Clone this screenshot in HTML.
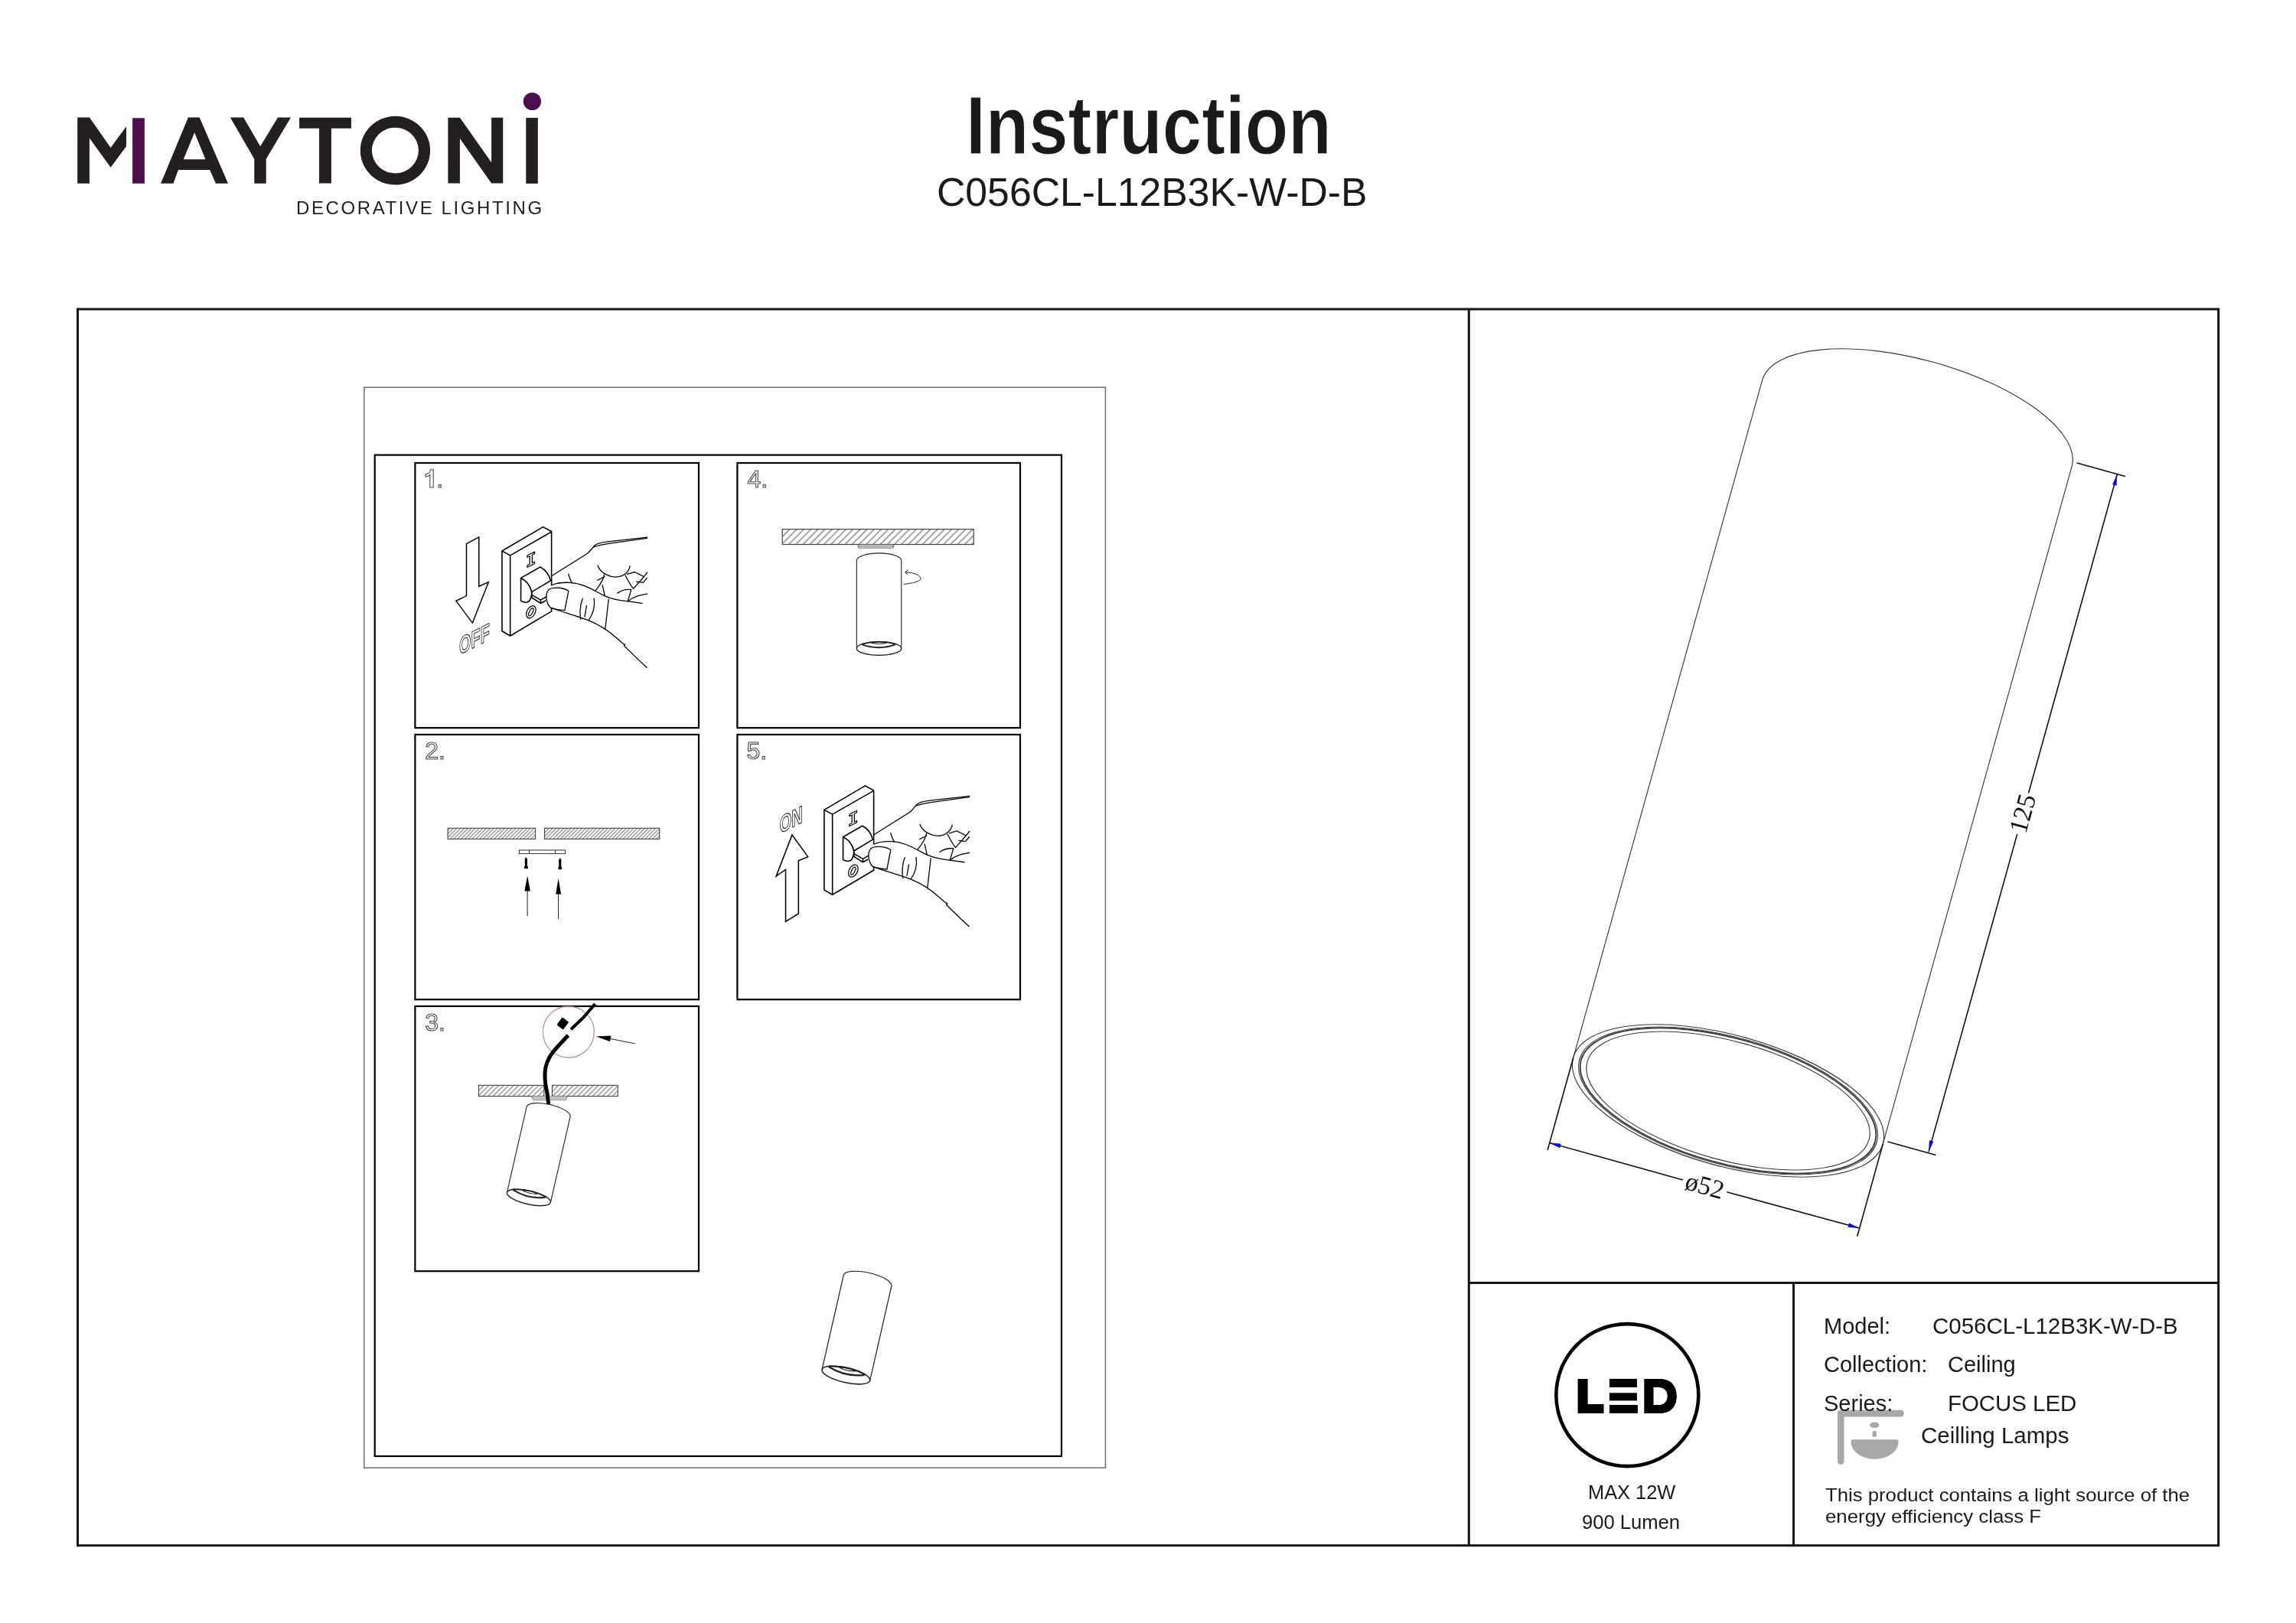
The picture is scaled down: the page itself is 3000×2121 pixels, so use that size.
<!DOCTYPE html>
<html><head><meta charset="utf-8">
<style>
html,body{margin:0;padding:0;background:#fff;}
body{width:3000px;height:2121px;overflow:hidden;position:relative;}
svg{position:absolute;left:0;top:0;will-change:transform;}
text{font-family:"Liberation Sans",sans-serif;}
.serif text,text.serif{font-family:"Liberation Serif",serif;}
</style></head>
<body>
<svg width="3000" height="2121" viewBox="0 0 3000 2121">
<!-- LOGO -->
<g id="logo" fill="#231f20">
<polygon points="101.2,153.5 116.9,153.5 144.6,192.9 165,165.3 165,191.2 144.6,218.8 116.9,180.4 116.9,239.8 101.2,239.8"/>
<rect x="173.1" y="154.3" width="15.8" height="85.5" fill="#4b0f50"/>
<path fill-rule="evenodd" d="M210.1,239.8 L245.9,153.5 L260.7,153.5 L298,239.8 L281.9,239.8 L274.2,222.1 L233,222.1 L226.5,239.8 Z M254.1,173.2 L239.8,208.2 L268.5,208.2 Z"/>
<polygon points="300.8,153.5 318.2,153.5 340.1,191.2 363.1,153.5 380,153.5 347.7,207.7 347.7,239.8 332.3,239.8 332.3,207.7"/>
<polygon points="391.1,153.7 458.9,153.7 458.9,167.8 432.9,167.8 432.9,239.6 417,239.6 417,167.8 391.1,167.8"/>
<path fill-rule="evenodd" d="M562.1,196.7 A45.65,44.8 0 1 1 470.8,196.7 A45.65,44.8 0 1 1 562.1,196.7 Z M546.9,196.6 A30.5,29.9 0 1 0 485.9,196.6 A30.5,29.9 0 1 0 546.9,196.6 Z"/>
<polygon points="585.4,153.7 600.9,153.7 642.1,212.2 642.1,153.7 657.2,153.7 657.2,239.6 642.1,239.6 600.9,181.1 600.9,239.6 585.4,239.6"/>
<rect x="687.3" y="154" width="15.5" height="85.9"/>
<circle cx="695.4" cy="132.5" r="11.6" fill="#4b0f50"/>
<text x="387" y="279.8" font-size="24" letter-spacing="2.6" fill="#231f20">DECORATIVE LIGHTING</text>
</g>

<!-- TITLE -->
<text x="1262" y="201.4" font-size="107" font-weight="bold" fill="#1a1a1a" stroke="#fff" stroke-width="1.2" textLength="477.7" lengthAdjust="spacingAndGlyphs">Instruction</text>
<text x="1224" y="268.5" font-size="52" fill="#1a1a1a" textLength="562.5" lengthAdjust="spacingAndGlyphs">C056CL-L12B3K-W-D-B</text>

<!-- MAIN FRAME -->
<g fill="none" stroke="#161616" stroke-width="3">
<rect x="101.5" y="404" width="2797.2" height="1615.7"/>
<line x1="1919.3" y1="404" x2="1919.3" y2="2019.7"/>
<line x1="1919.3" y1="1676.4" x2="2898.7" y2="1676.4"/>
<line x1="2343.5" y1="1676.4" x2="2343.5" y2="2019.7"/>
</g>

<!-- INSTRUCTION AREA -->
<rect x="475.8" y="506.2" width="968.6" height="1412" fill="none" stroke="#6e6e6e" stroke-width="1.5"/>
<rect x="489.7" y="594.6" width="897.3" height="1308.4" fill="none" stroke="#000" stroke-width="2.2"/>
<g fill="none" stroke="#000" stroke-width="2.2">
<rect x="542.4" y="605" width="370.6" height="346.2"/>
<rect x="963.4" y="605" width="369.6" height="346.2"/>
<rect x="542.4" y="960" width="370.6" height="346.2"/>
<rect x="963.4" y="960" width="369.6" height="346.2"/>
<rect x="542.4" y="1315" width="370.6" height="346.2"/>
</g>

<!-- BIG CYLINDER -->
<g fill="none" stroke="#3a3a3a" stroke-width="1.15">
<path d="M2055.7,1382.3 L2302.9,495.8 A210,83 15.54 0 1 2707.5,608.2 L2460.3,1494.7"/>
<ellipse cx="2258" cy="1438.5" rx="210" ry="85.5" transform="rotate(15.54 2258 1438.5)"/>
<ellipse cx="2258" cy="1438.5" rx="201.5" ry="83" transform="rotate(15.54 2258 1438.5)"/>
<ellipse cx="2258" cy="1438.5" rx="199.3" ry="81.6" transform="rotate(15.54 2258 1438.5)" stroke-width="1.8"/>
<ellipse cx="2258" cy="1438.5" rx="191" ry="77.5" transform="rotate(15.54 2258 1438.5)"/>
</g>
<g fill="none" stroke="#111" stroke-width="1.6">
<path d="M2055.7,1382.3 L2022.1,1503 M2460.3,1494.7 L2426.7,1615.7"/>
<path d="M2024.4,1493.4 L2198.8,1541.9 M2256.3,1557.8 L2429.7,1605.1"/>
<path d="M2713.7,605.1 L2776.8,622.5 M2466.4,1492.1 L2529.5,1509.6"/>
<path d="M2766.4,619.6 L2650.5,1036.5 M2635.7,1090.1 L2520,1505.4"/>
</g>
<g fill="#0b0bd6">
<polygon points="2024.4,1493.4 2039.6,1494.8 2038.1,1500.2"/>
<polygon points="2429.7,1605.1 2414.5,1603.7 2416,1598.3"/>
<polygon points="2766.4,619.6 2765.5,634.8 2760.1,633.3"/>
<polygon points="2520,1505.4 2520.9,1490.2 2526.3,1491.7"/>
</g>
<g class="serif" font-size="34" fill="#111" font-family="Liberation Serif, serif">
<text transform="translate(2227.5,1549.8) rotate(15.54)" text-anchor="middle" dy="11">ø52</text>
<text transform="translate(2643.1,1063.3) rotate(-74.46)" text-anchor="middle" dy="11">125</text>
</g>

<!-- SWITCH + HAND symbol (panel1 coords, zoom 8.115) -->
<defs>
<g id="sw">
 <g fill="none" stroke="#000" stroke-width="13" stroke-linejoin="round">
  <path d="M535,325 L970,70 L1060,118 L1060,965 L622,1225 L535,1175 Z"/>
  <path d="M535,325 L622,372 L1060,122 M622,372 L622,1225"/>
  <path d="M735,612 L940,495 Q1025,540 1050,640 L850,760 Q825,655 735,612 Z"/>
  <path d="M735,612 L735,855 Q790,885 825,855 Q855,800 850,760"/>
  <path d="M850,760 L850,790 L945,845 L1010,808 M945,845 L945,880 M850,790 L850,820 L945,880 L1000,850"/>
  <path transform="translate(803,372) skewY(-26)" d="M0,0 L78,0 L78,20 L52,20 L52,106 L78,106 L78,126 L0,126 L0,106 L26,106 L26,20 L0,20 Z" stroke-width="10" fill="#fff"/>
  <ellipse cx="843" cy="972" rx="44" ry="70" transform="rotate(28 843 972)" stroke-width="10"/>
  <ellipse cx="843" cy="972" rx="17" ry="45" transform="rotate(28 843 972)" stroke-width="10"/>
 </g>
 <g fill="none" stroke="#000" stroke-width="10.5" stroke-linecap="round">
  <path d="M1062,688 C1000,720 985,840 1052,928 C1150,967 1300,1007 1450,1062 L1632,1152 L1668,838 C1600,792 1500,742 1400,692 C1300,655 1150,650 1062,688 Z" fill="#fff" stroke="none"/>
  <path d="M1060,590 L1450,345 Q1490,300 1515,270 Q1545,240 1640,228 L2075,180"/>
  <path d="M1510,282 Q1580,258 1680,244 L2072,190"/>
  <path d="M1062,688 C1120,662 1180,657 1250,660 C1400,668 1500,740 1620,800 C1700,835 1790,852 1880,860 L2020,880"/>
  <path d="M1050,925 C1150,965 1300,1005 1450,1060 C1550,1100 1650,1160 1740,1240 L1810,1300 L1840,1320 L1830,1330 C1900,1400 1980,1480 2070,1560"/>
  <path d="M1052,928 C1000,880 990,780 1030,735 C1080,700 1200,715 1240,750 L1200,955 C1150,950 1090,940 1052,928"/>
  <path d="M1390,830 C1360,900 1358,1000 1370,1050 M1455,1058 C1505,985 1522,905 1510,828 M1432,905 L1412,1022"/>
  <path d="M1665,840 L1630,1150"/>
  <path d="M1550,480 C1580,560 1680,608 1760,600 C1830,592 1880,545 1892,485"/>
  <path d="M1240,570 C1252,612 1262,642 1278,662"/>
  <path d="M1620,575 C1605,640 1565,700 1525,745 M1548,635 L1622,598 M1600,688 L1625,800"/>
  <path d="M1842,582 C1870,640 1895,682 1925,722 M1862,572 L1940,548 L2040,598 M2072,612 L2032,660 L1962,650"/>
  <path d="M1760,772 C1800,742 1850,730 1905,735 M1905,735 L1868,860 M2075,552 C2040,600 1992,652 1930,722 M1868,860 C1930,805 2000,792 2075,780"/>
 </g>
</g>
</defs>
<use href="#sw" transform="translate(590,680) scale(0.123229)"/>
<use href="#sw" transform="translate(1011,1018.3) scale(0.123229)"/>
<!-- Panel 1 arrow + OFF -->
<text transform="translate(590,680) scale(0.123229) translate(82,1429) skewY(-27)" font-size="257" font-weight="bold" fill="#fff" stroke="#222" stroke-width="9" textLength="322" lengthAdjust="spacingAndGlyphs">OFF</text>
<g transform="translate(590,680) scale(0.123229)">
 <path d="M158,248 L290,178 L290,700 L392,655 L222,1088 L48,855 L158,800 Z" fill="none" stroke="#000" stroke-width="12" stroke-linejoin="miter"/>
</g>

<defs>
<pattern id="h4" width="6.5" height="20" patternUnits="userSpaceOnUse" patternTransform="translate(1022,691) rotate(45)"><line x1="1" y1="0" x2="1" y2="20" stroke="#484848" stroke-width="0.95"/></pattern>
<pattern id="h2" width="3.4" height="20" patternUnits="userSpaceOnUse" patternTransform="rotate(45)"><line x1="1" y1="0" x2="1" y2="20" stroke="#444" stroke-width="0.85"/></pattern>
<pattern id="h3" width="4.6" height="20" patternUnits="userSpaceOnUse" patternTransform="rotate(45)"><line x1="1" y1="0" x2="1" y2="20" stroke="#444" stroke-width="0.9"/></pattern>
<g id="cyl" fill="none" stroke="#222" stroke-width="1.1">
 <path d="M-29.2,0 A29.2,9.5 0 0 1 29.2,0 L29.2,115 M-29.2,0 L-29.2,115"/>
 <ellipse cx="0" cy="115" rx="29.2" ry="8.8" fill="#fff" stroke-width="1.4"/>
 <path d="M-23,109.6 Q0,102.8 23,109.6" stroke-width="1.8"/>
 <path d="M-22,110 Q0,117.6 21,110" stroke-width="2"/>
 <path d="M-10,108 Q0,105.5 10,108 Q0,110.5 -10,108" stroke-width="1"/>
</g>
</defs>
<!-- Panel 4 -->
<rect x="1022.2" y="691.6" width="250" height="19.9" fill="url(#h4)" stroke="#444" stroke-width="1.2"/>
<path d="M1121,711.5 L1168,711.5 L1167,716 L1122,716 Z M1122,713.6 L1167,713.6" fill="#fff" stroke="#444" stroke-width="0.9"/>
<use href="#cyl" transform="translate(1148.55,732.4)"/>
<path d="M1180.7,763.5 C1195,762 1204,759 1203,755.6 C1202,751 1192,748 1183,747.8" fill="none" stroke="#222" stroke-width="1"/>
<path d="M1187,744.5 L1182.5,747.8 L1186.5,751" fill="none" stroke="#222" stroke-width="1"/>
<!-- Panel 2 -->
<rect x="585.1" y="1082.3" width="114.5" height="14.2" fill="url(#h2)" stroke="#444" stroke-width="1.1"/>
<rect x="711.5" y="1082.3" width="150.2" height="14.2" fill="url(#h2)" stroke="#444" stroke-width="1.1"/>
<rect x="678.4" y="1111" width="60.1" height="4.6" fill="#fff" stroke="#333" stroke-width="1"/>
<path d="M691.5,1111 L691.5,1115.6 M725.6,1111 L725.6,1115.6" stroke="#333" stroke-width="1"/>
<path d="M687.4,1120.3 L689,1122.5 L688.8,1131 Q690.8,1133 689.6,1135.2 L685.4,1135.2 Q684,1133 685.9,1131 L685.7,1122.5 Z M731.8,1121.3 L733.4,1123.5 L733.2,1132 Q735.2,1134 734,1136.2 L729.8,1136.2 Q728.4,1134 730.3,1132 L730.1,1123.5 Z" fill="#000"/>
<path d="M689.1,1164 L689.1,1197 M729.6,1168 L729.6,1201" stroke="#222" stroke-width="1"/>
<path d="M689.1,1144.4 L692.9,1164.5 L685.4,1164.5 Z M729.6,1148 L733.1,1168.5 L726.2,1168.5 Z" fill="#000"/>
<!-- Panel 3 -->
<rect x="625.4" y="1418.3" width="85.4" height="14.3" fill="url(#h3)" stroke="#444" stroke-width="1.1"/>
<rect x="721.5" y="1418.3" width="85.8" height="14.3" fill="url(#h3)" stroke="#444" stroke-width="1.1"/>
<path d="M694.7,1432.6 L741.2,1432.6 L739.5,1437.4 L696.5,1437.4 Z M696,1435 L740,1435" fill="#f4f4f4" stroke="#555" stroke-width="0.8"/>
<use href="#cyl" transform="translate(716.6,1452.8) rotate(12.9)"/>
<circle cx="742.8" cy="1348.6" r="33.5" fill="none" stroke="#b48686" stroke-width="1.1"/>
<path d="M742.3,1353 C736,1360 728,1368 722.4,1375 C716,1383 712.5,1392 712,1402.6 C711.8,1412 713,1420 714.9,1428 L716.7,1443" fill="none" stroke="#000" stroke-width="5"/>
<path d="M746,1345.2 L762,1330 L777.5,1312" fill="none" stroke="#000" stroke-width="4"/>
<rect x="-5.35" y="-6.2" width="10.7" height="12.4" rx="1.5" transform="translate(735.3,1337.6) rotate(37.4)" fill="#000"/>
<path d="M829.6,1363.8 L795,1357" stroke="#222" stroke-width="1"/>
<path d="M778.7,1354.5 L798.4,1353.4 L797,1361 Z" fill="#000"/>
<!-- Bottom lamp -->
<use href="#cyl" transform="translate(1133.5,1673.7) rotate(12.85) scale(1.1)" stroke-width="1.4"/>
<!-- Panel 5 arrow + ON -->
<g transform="translate(1000,1020) scale(0.129383)">
 <path d="M205,1425 L205,900 L110,965 L270,550 L430,770 L335,810 L335,1345 Z" fill="none" stroke="#000" stroke-width="12"/>
</g>
<text transform="translate(1000,1020) scale(0.129383) translate(145,538) skewY(-27)" font-size="244" font-weight="bold" fill="#fff" stroke="#222" stroke-width="9" textLength="232" lengthAdjust="spacingAndGlyphs">ON</text>

<!-- panel numbers -->
<g font-size="32" fill="#fff" stroke="#4a4a4a" stroke-width="1.1">
<path d="M561.8,637 L566.2,637 L566.2,613.8 L562.8,613.8 C562.2,617.3 559.8,619.2 556,619.6 L556,622.9 C558.6,622.8 560.6,622 561.8,620.6 Z"/>
<text x="552.5" y="637">&#8199;.</text>
<text x="555.2" y="991.8">2.</text>
<text x="555.2" y="1347">3.</text>
<text x="976.5" y="637">4.</text>
<text x="975.4" y="992.4">5.</text>
</g>

<!-- LED block -->
<circle cx="2126.3" cy="1823.1" r="93" fill="none" stroke="#000" stroke-width="4.6"/>
<g fill="#000">
<path d="M2061.6,1801.9 L2074.6,1801.9 L2074.6,1835 L2095.5,1835 L2095.5,1846.9 L2061.6,1846.9 Z"/>
<rect x="2102.9" y="1801.9" width="36" height="11.1"/>
<rect x="2102.9" y="1820.3" width="36" height="10.1"/>
<rect x="2102.9" y="1836" width="37" height="10.9"/>
<path fill-rule="evenodd" d="M2148.3,1801.9 L2169.3,1801.9 C2183,1801.9 2190.8,1811 2190.8,1824.4 C2190.8,1838 2183,1846.9 2169.3,1846.9 L2148.3,1846.9 Z M2160.5,1813 L2167,1813 C2173.5,1813 2178.7,1817 2178.7,1824.4 C2178.7,1831.8 2173.5,1836 2167,1836 L2160.5,1836 Z"/>
</g>
<g fill="#a8a8aa">
<rect x="2401" y="1842.7" width="86.8" height="8.8" rx="4.2"/>
<rect x="2401" y="1842.7" width="8.5" height="71.4" rx="4.2"/>
<ellipse cx="2449.2" cy="1862.3" rx="6" ry="3.8"/>
<rect x="2446.6" y="1870.2" width="5.1" height="7.4"/>
<path d="M2421,1881.2 L2478,1881.2 Q2480.5,1881.2 2480.5,1884 C2480.5,1897 2466,1906.8 2449.5,1906.8 C2433,1906.8 2418.5,1897 2418.5,1884 Q2418.5,1881.2 2421,1881.2 Z"/>
</g>
<text x="2075" y="1959" font-size="25.4" fill="#1a1a1a">MAX 12W</text>
<text x="2067" y="1998.4" font-size="25.6" fill="#1a1a1a">900 Lumen</text>

<!-- SPEC TABLE -->
<g font-size="29" fill="#1a1a1a">
<text x="2383" y="1743">Model:</text>
<text x="2525" y="1743" font-size="29.5">C056CL-L12B3K-W-D-B</text>
<text x="2383" y="1793.4">Collection:</text>
<text x="2545" y="1793.4">Ceiling</text>
<text x="2383" y="1843.5">Series:</text>
<text x="2545" y="1843.5" font-size="29.4">FOCUS LED</text>
<text x="2510" y="1886" font-size="29.5">Ceilling Lamps</text>
</g>
<text x="2385" y="1962" font-size="24.5" fill="#1a1a1a" textLength="476" lengthAdjust="spacingAndGlyphs">This product contains a light source of the</text>
<text x="2385" y="1989.6" font-size="24.5" fill="#1a1a1a" textLength="282" lengthAdjust="spacingAndGlyphs">energy efficiency class F</text>

</svg>
</body></html>
